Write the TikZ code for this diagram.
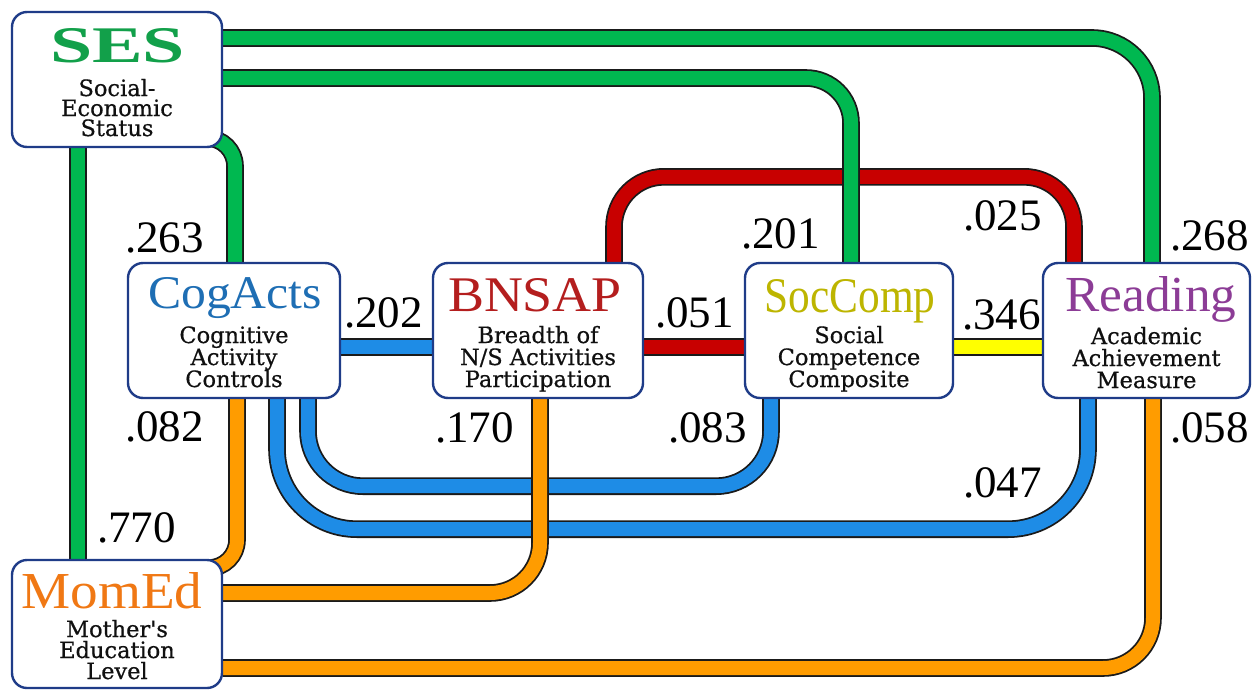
\documentclass[tikz,border=0pt]{standalone}
\usepackage{fontspec}
\usepackage{graphicx}
\setmainfont{Liberation Serif}
\newfontfamily\subfont[FakeBold=0.6]{DejaVu Serif}
\usetikzlibrary{calc}

\definecolor{pgreen}{HTML}{00B850}
\definecolor{pblue}{HTML}{1E8CE6}
\definecolor{pred}{HTML}{C80000}
\definecolor{porange}{HTML}{FF9C00}
\definecolor{pyellow}{HTML}{FFFF00}
\definecolor{edge}{HTML}{1A1A1A}
\definecolor{frame}{HTML}{1F3C88}
\definecolor{tses}{HTML}{12A04A}
\definecolor{tcog}{HTML}{1E6EB4}
\definecolor{tbns}{HTML}{B41E1E}
\definecolor{tsoc}{HTML}{BDB500}
\definecolor{tread}{HTML}{8C3C96}
\definecolor{tmom}{HTML}{F07814}
\definecolor{subtxt}{HTML}{101010}

% three centred lines with a fixed baseline distance; baseline = first line
\newcommand\trio[4]{\vtop{\baselineskip=#1\lineskiplimit=-50pt\lineskip=0pt
  \halign{\hfil##\hfil\cr#2\cr#3\cr#4\cr}}}
% a title stretched to a given width and cap height
\newcommand\fitto[3]{\resizebox{#1}{#2}{#3}}

\pgfdeclarelayer{canvas}
\pgfdeclarelayer{pipes}
\pgfsetlayers{canvas,pipes,main}

\begin{document}
\begin{tikzpicture}[x=1pt,y=-1pt,
  varbox/.style={draw=frame, line width=2.4pt, fill=white, rounded corners=15pt,
    inner sep=0pt, minimum height=135pt},
  pipe/.style={draw=edge, line width=1.8pt, double distance=14pt, double=#1},
  ttl/.style={inner sep=0pt, anchor=base, font=\fontsize{48}{48}\selectfont},
  sublbl/.style={inner sep=0pt, anchor=base, text=subtxt, font=\subfont\fontsize{22.5}{22}\selectfont},
  coef/.style={inner sep=0pt, anchor=base west, font=\fontsize{45}{45}\selectfont}]

\useasboundingbox (0,0) rectangle (1256,691);
\begin{pgfonlayer}{canvas}
  \fill[white] (0,0) rectangle (1256,691);
\end{pgfonlayer}

% variable boxes
\node[varbox, minimum width=210pt] (ses)  at (117,79.5) {};
\node[varbox, minimum width=212pt] (cog)  at (234,330.5) {};
\node[varbox, minimum width=210pt] (bns)  at (538,330.5) {};
\node[varbox, minimum width=208pt] (soc)  at (849,330.5) {};
\node[varbox, minimum width=207pt] (read) at (1146.5,330.5) {};
\node[varbox, minimum width=210pt, minimum height=128pt] (mom) at (117,624) {};

% titles
\node[ttl, text=tses]  (sesT)  at (117.5,62) {\fitto{135pt}{34pt}{\bfseries SES}};
\node[ttl, text=tcog]  (cogT)  at (235,308)  {\fitto{174pt}{31pt}{CogActs}};
\node[ttl, text=tbns]  (bnsT)  at (535,311)  {\fitto{174pt}{33pt}{BNSAP}};
\node[ttl, text=tsoc]  (socT)  at (850,312)  {\fitto{171pt}{33pt}{SocComp}};
\node[ttl, text=tread] (readT) at (1151,311) {\fitto{171pt}{35pt}{Reading}};
\node[ttl, text=tmom]  (momT)  at (112,608)  {\fitto{181pt}{36pt}{MomEd}};

% descriptions
\node[sublbl] (sesS)  at (117,96)     {\trio{20pt}{Social-}{Economic}{Status}};
\node[sublbl] (cogS)  at (234,343)    {\trio{22pt}{Cognitive}{Activity}{Controls}};
\node[sublbl] (bnsS)  at (538,343)    {\trio{22pt}{Breadth of}{N/S Activities}{Participation}};
\node[sublbl] (socS)  at (849,343)    {\trio{22pt}{Social}{Competence}{Composite}};
\node[sublbl] (readS) at (1146.5,344) {\trio{22pt}{Academic}{Achievement}{Measure}};
\node[sublbl] (momS)  at (117,637)    {\trio{21pt}{Mother's}{Education}{Level}};

% connectors
\begin{pgfonlayer}{pipes}
  % BNSAP links
  \draw[pipe=pred] ([yshift=-16.5]bns.east) -- ([yshift=-16.5]soc.west);
  \draw[pipe=pred, rounded corners=50pt] ([xshift=76]bns.north) -- ++(0,-85)
        -| ([xshift=-72.5]read.north);
  % CogActs links
  \draw[pipe=pblue] ([yshift=-16.5]cog.east) -- ([yshift=-16.5]bns.west);
  \draw[pipe=pblue, rounded corners=55pt] ([xshift=74]cog.south) -- ++(0,87)
        -| ([xshift=-78]soc.south);
  \draw[pipe=pblue, rounded corners=80pt] ([xshift=43]cog.south) -- ++(0,130)
        -| ([xshift=-58.5]read.south);
  % SocComp link
  \draw[pipe=pyellow] ([yshift=-16.5]soc.east) -- ([yshift=-16.5]read.west);
  % SES links
  \draw[pipe=pgreen, rounded corners=60pt] ([yshift=41.5]ses.east) -| ([xshift=5.5]read.north);
  \draw[pipe=pgreen, rounded corners=45pt] ([yshift=1.5]ses.east) -| ([xshift=2]soc.north);
  \draw[pipe=pgreen, rounded corners=28pt] ([xshift=-20,yshift=-58.5]ses.east) -| ([xshift=1]cog.north);
  \draw[pipe=pgreen] ([xshift=-39]ses.south) -- ([xshift=-39]mom.north);
  % MomEd links
  \draw[pipe=porange, rounded corners=28pt] ([xshift=3]cog.south) |- ([xshift=-20,yshift=56]mom.east);
  \draw[pipe=porange, rounded corners=50pt] ([xshift=2]bns.south) |- ([yshift=31]mom.east);
  \draw[pipe=porange, rounded corners=50pt] ([xshift=6.5]read.south) |- ([yshift=-44]mom.east);
\end{pgfonlayer}

% path coefficients
\node[coef] (c263) at (125,252)  {.263};
\node[coef] (c082) at (125,441)  {.082};
\node[coef] (c770) at (97,542)   {.770};
\node[coef] (c202) at (344,327)  {.202};
\node[coef] (c170) at (435,442)  {.170};
\node[coef] (c051) at (655,327)  {.051};
\node[coef] (c083) at (668,442)  {.083};
\node[coef] (c346) at (962,329)  {.346};
\node[coef] (c201) at (741,248)  {.201};
\node[coef] (c025) at (963,230)  {.025};
\node[coef] (c268) at (1170,250) {.268};
\node[coef] (c058) at (1170,442) {.058};
\node[coef] (c047) at (963,497)  {.047};
\end{tikzpicture}
\end{document}
